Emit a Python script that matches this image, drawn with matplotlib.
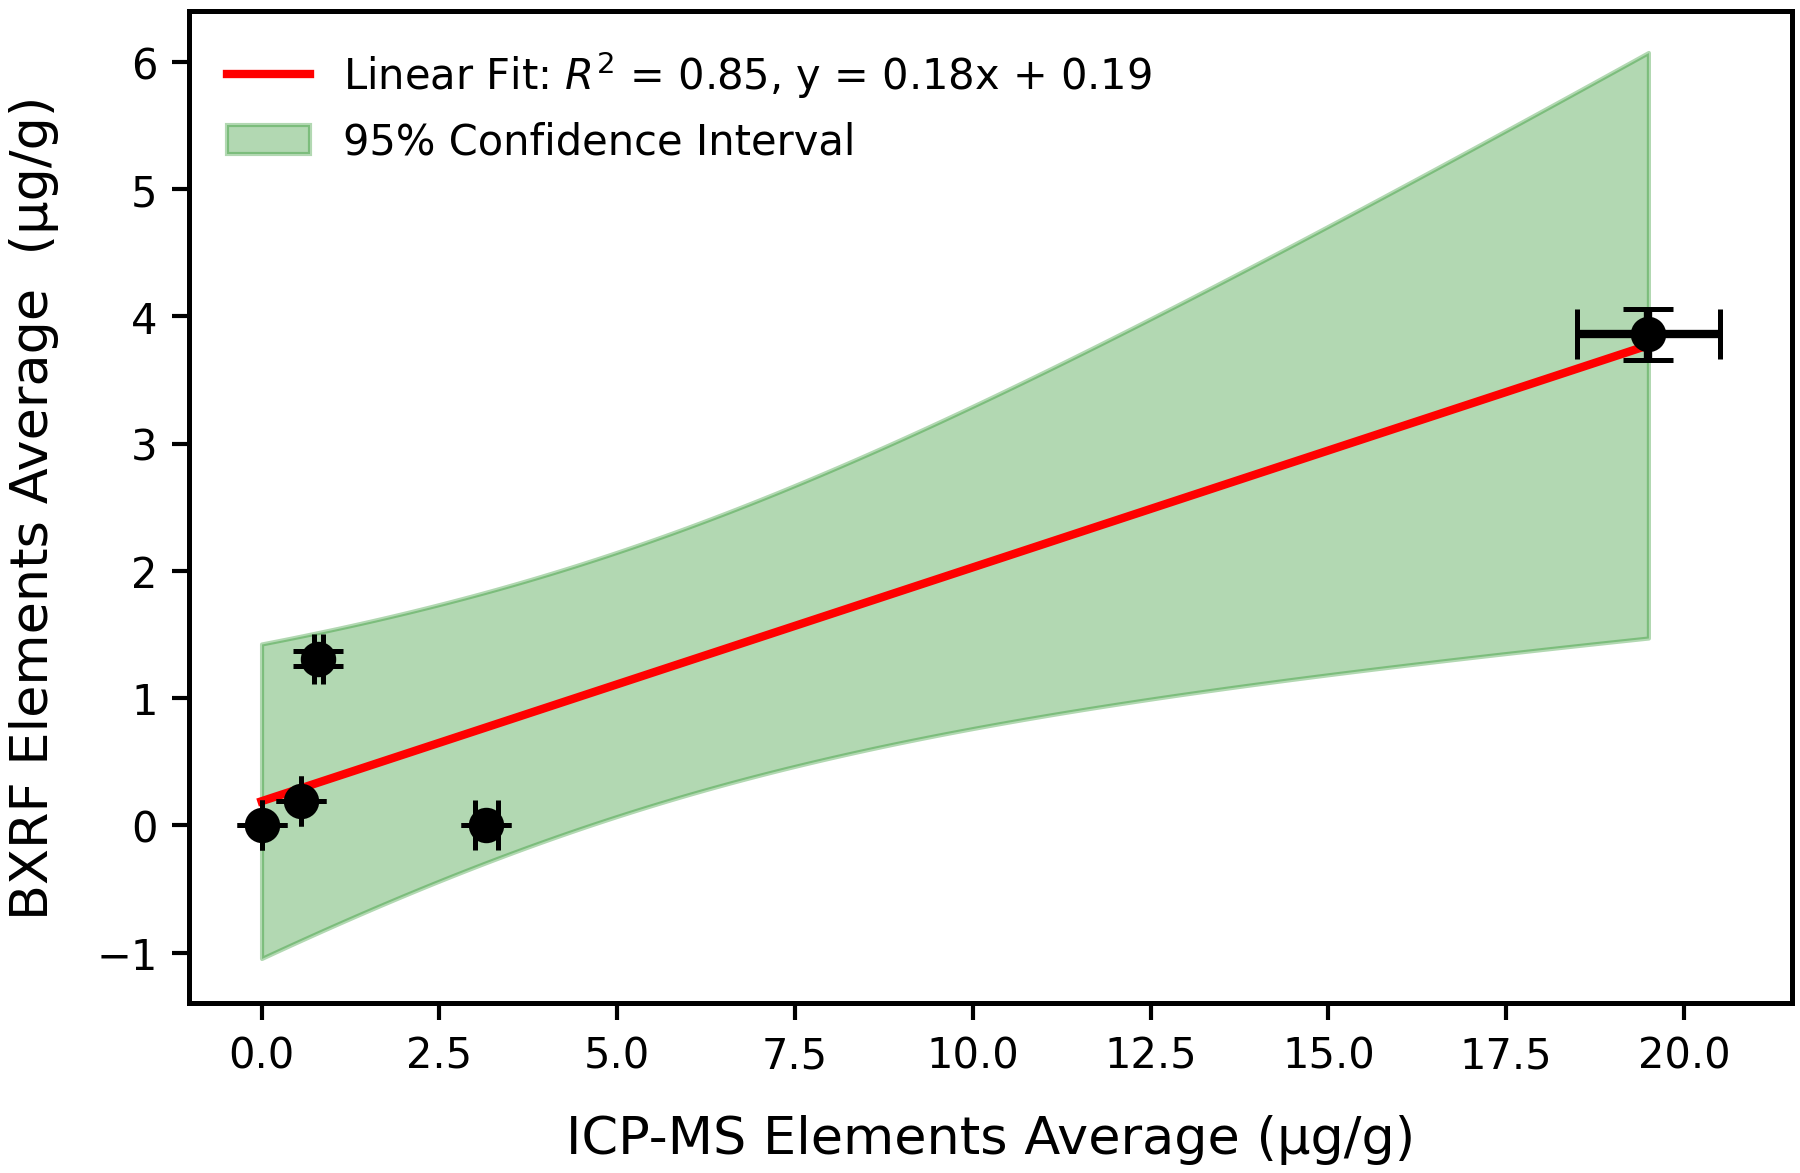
import numpy as np
import matplotlib.pyplot as plt

# values
icp_avg = np.array([0.0, 0.56, 0.80, 3.16, 19.50])
bxrf_avg = np.array([0.0, 0.19, 1.31, 0.0, 3.86])
icp_err = np.array([0.0, 0.0, 0.06, 0.16, 1.0])
bxrf_err = np.array([0.0, 0.0, 0.06, 0.0, 0.20])

T_95 = 3.182  # t(0.975, n-2=3)

# linear fit + confidence band for the mean
slope, intercept = np.polyfit(icp_avg, bxrf_avg, 1)
pred = slope * icp_avg + intercept
n = len(icp_avg)
ss_res = np.sum((bxrf_avg - pred) ** 2)
s = np.sqrt(ss_res / (n - 2))
sxx = np.sum((icp_avg - icp_avg.mean()) ** 2)

xs = np.linspace(icp_avg.min(), icp_avg.max(), 200)
ys = slope * xs + intercept
half = T_95 * s * np.sqrt(1 / n + (xs - icp_avg.mean()) ** 2 / sxx)

fig = plt.figure(figsize=(6, 3.913), dpi=300)
ax = fig.add_axes([0.105, 0.1444, 0.8906, 0.8456])

ax.plot(xs, ys, color='red', lw=2,
        label='Linear Fit: $R^2$ = 0.85, y = 0.18x + 0.19')
ax.fill_between(xs, ys - half, ys + half, color='green', alpha=0.3,
                label='95% Confidence Interval')
ax.errorbar(icp_avg, bxrf_avg, xerr=icp_err, yerr=bxrf_err, fmt='o', color='black',
            markersize=7.5, elinewidth=2, capsize=6, capthick=1.2, zorder=3)

ax.set_xlim(-1.02, 21.52)
ax.set_ylim(-1.40, 6.40)
ax.set_xticks(np.arange(0, 20.1, 2.5))
ax.set_xlabel('ICP-MS Elements Average (μg/g)', fontsize=12.6, labelpad=9)
ax.set_ylabel('BXRF Elements Average  (μg/g)', fontsize=12.6, labelpad=9)
ax.tick_params(labelsize=10, width=1.0, length=4)
for sp in ax.spines.values():
    sp.set_linewidth(1.2)
ax.legend(loc='upper left', frameon=False, fontsize=10)

plt.savefig('out.png', dpi=300)
